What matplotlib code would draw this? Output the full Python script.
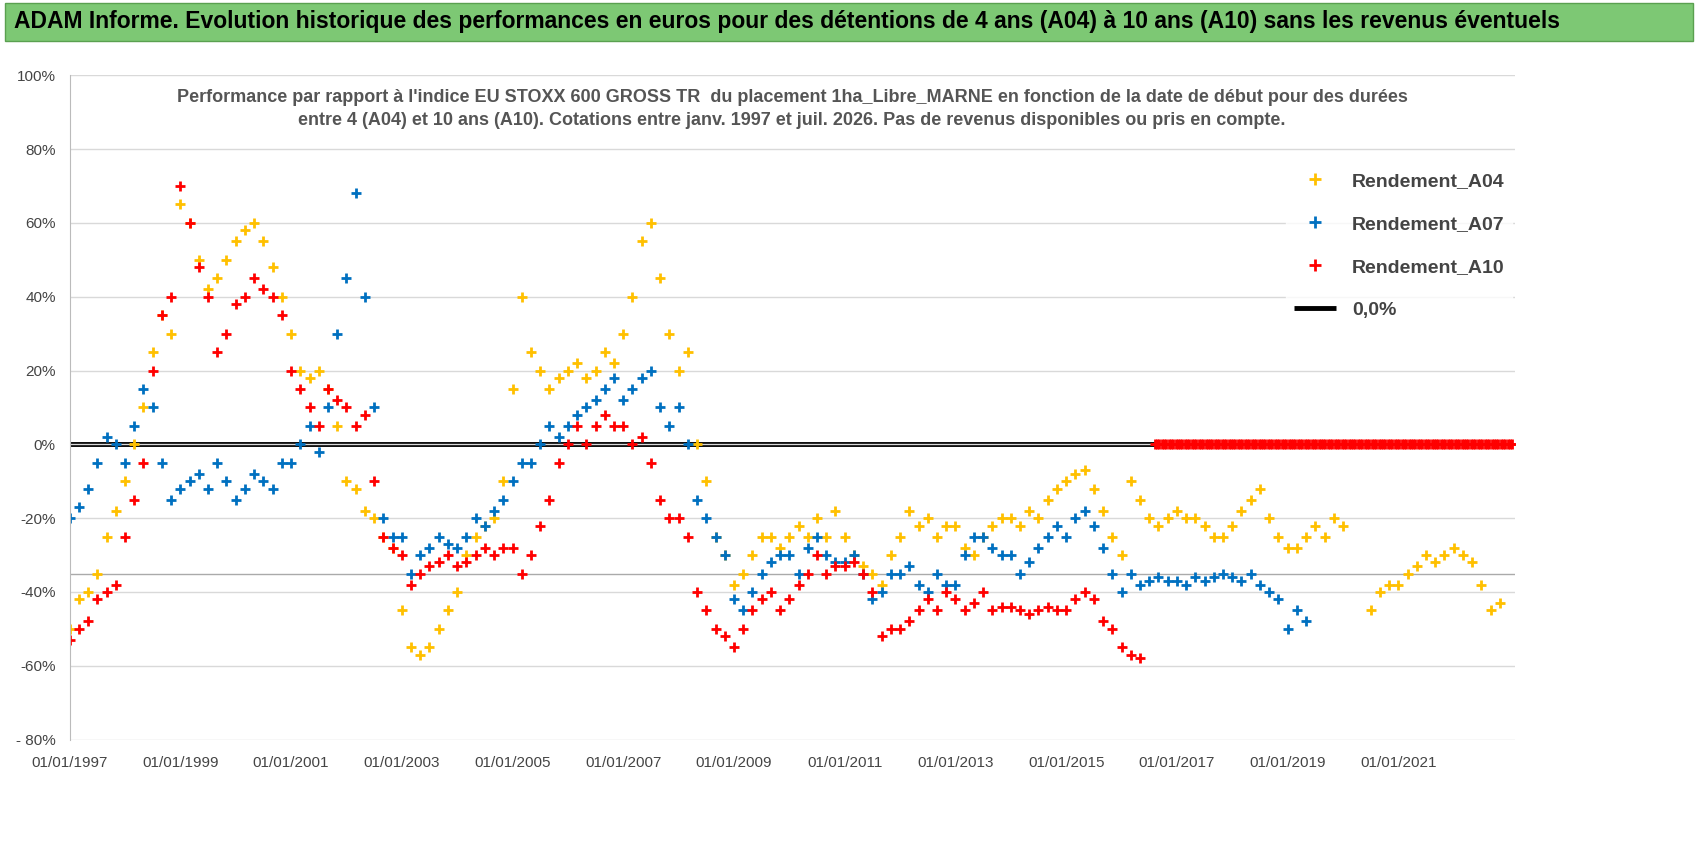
import numpy as np
import matplotlib
matplotlib.use("Agg")
import matplotlib.pyplot as plt

nan = np.nan
a04 = [-50,-42,-40,-35,-25,-18, -10,0,10,25,35,30, 65,60,50,42,45,50, 55,58,60,55,48,40,
       30,20,18,20,15,5, -10,-12,-18,-20,-25,-28, -45,-55,-57,-55,-50,-45, -40,-30,-25,-22,-20,-10,
       15,40,25,20,15,18, 20,22,18,20,25,22, 30,40,55,60,45,30, 20,25,0,-10,-25,-30,
       -38,-35,-30,-25,-25,-28, -25,-22,-25,-20,-25,-18, -25,-30,-33,-35,-38,-30, -25,-18,-22,-20,-25,-22,
       -22,-28,-30,-25,-22,-20, -20,-22,-18,-20,-15,-12, -10,-8,-7,-12,-18,-25, -30,-10,-15,-20,-22,-20,
       -18,-20,-20,-22,-25,-25, -22,-18,-15,-12,-20,-25, -28,-28,-25,-22,-25,-20, -22,nan,nan,-45,-40,-38,
       -38,-35,-33,-30,-32,-30, -28,-30,-32,-38,-45,-43]
a07 = [-20,-17,-12,-5,2,0, -5,5,15,10,-5,-15, -12,-10,-8,-12,-5,-10, -15,-12,-8,-10,-12,-5,
       -5,0,5,-2,10,30, 45,68,40,10,-20,-25, -25,-35,-30,-28,-25,-27, -28,-25,-20,-22,-18,-15,
       -10,-5,-5,0,5,2, 5,8,10,12,15,18, 12,15,18,20,10,5, 10,0,-15,-20,-25,-30,
       -42,-45,-40,-35,-32,-30, -30,-35,-28,-25,-30,-32, -32,-30,-35,-42,-40,-35, -35,-33,-38,-40,-35,-38,
       -38,-30,-25,-25,-28,-30, -30,-35,-32,-28,-25,-22, -25,-20,-18,-22,-28,-35, -40,-35,-38,-37,-36,-37,
       -37,-38,-36,-37,-36,-35, -36,-37,-35,-38,-40,-42, -50,-45,-48]
a10 = [-53,-50,-48,-42,-40,-38, -25,-15,-5,20,35,40, 70,60,48,40,25,30, 38,40,45,42,40,35,
       20,15,10,5,15,12, 10,5,8,-10,-25,-28, -30,-38,-35,-33,-32,-30, -33,-32,-30,-28,-30,-28,
       -28,-35,-30,-22,-15,-5, 0,5,0,5,8,5, 5,0,2,-5,-15,-20, -20,-25,-40,-45,-50,-52,
       -55,-50,-45,-42,-40,-45, -42,-38,-35,-30,-35,-33, -33,-32,-35,-40,-52,-50, -50,-48,-45,-42,-45,-40,
       -42,-45,-43,-40,-45,-44, -44,-45,-46,-45,-44,-45, -45,-42,-40,-42,-48,-50, -55,-57,-58]
zero_start, zero_end = 2016.6, 2023.1
xtick_years = list(range(1997, 2023, 2))
xtick_labels = [f"01/01/{y}" for y in xtick_years]

def xs(n): return 1997 + np.arange(n) / 6.0

fig = plt.figure(figsize=(16.98, 8.56), dpi=100)
fig.patch.set_facecolor("white")
plt.rcParams['font.family'] = ['Liberation Sans', 'DejaVu Sans']
fig.patches.append(plt.Rectangle((0.003, 0.952), 0.994, 0.045, transform=fig.transFigure,
                                 facecolor="#7dc874", edgecolor="#5aa050"))
fig.text(0.008, 0.975, "ADAM Informe. Evolution historique des performances en euros pour des détentions de 4 ans (A04) à 10 ans (A10) sans les revenus éventuels",
         fontsize=16.5, fontweight="bold", va="center", ha="left")

ax = fig.add_axes([0.041, 0.136, 0.851, 0.776])
for s in ax.spines.values(): s.set_visible(False)
ax.spines['left'].set_visible(True); ax.spines['left'].set_color("#bbbbbb")
ax.set_ylim(-80, 100)
ax.set_xlim(1997, 2023.1)
ax.set_yticks(range(-80, 101, 20))
ax.set_yticklabels(["- 80%" if v == -80 else f"{v}%" for v in range(-80, 101, 20)], fontsize=11, color="#444")
ax.set_xticks(xtick_years)
ax.set_xticklabels(xtick_labels, fontsize=11, color="#444")
ax.grid(axis='y', color="#d9d9d9", lw=1)
ax.tick_params(axis='y', length=0, pad=10)
ax.tick_params(axis='x', length=0, pad=12)
ax.axhline(-35, color="#aaaaaa", lw=1)
mk = dict(ls='none', marker='+', markersize=7, mew=2)
ax.plot(xs(len(a04)), a04, color="#ffc000", label="Rendement_A04", **mk)
ax.plot(xs(len(a07)), a07, color="#0070c0", label="Rendement_A07", **mk)
ax.plot(xs(len(a10)), a10, color="#ff0000", label="Rendement_A10", **mk)
zx = np.arange(zero_start, zero_end, 1/24)
ax.plot(zx, np.zeros_like(zx), color="#ff0000", **mk)
ax.plot([1997, zero_start], [0, 0], color="black", lw=3.5, label="0,0%", zorder=1, solid_capstyle='butt')
leg = ax.legend(loc="upper left", bbox_to_anchor=(0.835, 0.88), fontsize=14, frameon=True,
                labelspacing=1.3, handlelength=2.2, markerscale=1.2)
leg.get_frame().set_edgecolor("white")
for t in leg.get_texts(): t.set_color("#444"); t.set_fontweight("bold")
ax.text(0.5, 0.98, "Performance par rapport à l'indice EU STOXX 600 GROSS TR  du placement 1ha_Libre_MARNE en fonction de la date de début pour des durées\nentre 4 (A04) et 10 ans (A10). Cotations entre janv. 1997 et juil. 2026. Pas de revenus disponibles ou pris en compte.",
        transform=ax.transAxes, ha="center", va="top", fontsize=13, fontweight="bold", color="#555", linespacing=1.5)
fig.savefig("out.png", dpi=100)
